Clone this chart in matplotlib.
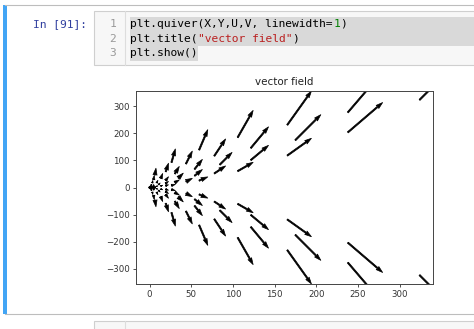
import matplotlib
matplotlib.use('Agg')
import matplotlib.pyplot as plt
from matplotlib.patches import Rectangle
from matplotlib.lines import Line2D

# ---------------- data (upper half; lower half is its mirror) ----------------
x_upper = [6.6, 26.4, 59.5, 105.8, 165.3, 238.0, 324.0,
           4.9, 19.4, 43.7, 77.7, 121.5, 174.9, 238.0,
           3.4, 13.5, 30.4, 54.0, 84.3, 121.5, 165.3,
           2.2, 8.6, 19.4, 34.5, 54.0, 77.7, 105.8,
           1.2, 4.9, 10.9, 19.4, 30.4, 43.7, 59.5,
           0.5, 2.2, 4.9, 8.6, 13.5, 19.4, 26.4,
           0.1, 0.5, 1.2, 2.2, 3.4, 4.9, 6.6, 0.0]
y_upper = [46.3, 92.6, 138.9, 185.1, 231.4, 277.7, 324.0,
           29.1, 58.3, 87.4, 116.6, 145.7, 174.9, 204.0,
           16.9, 33.7, 50.6, 67.5, 84.3, 101.2, 118.1,
           8.6, 17.3, 25.9, 34.5, 43.2, 51.8, 60.5,
           3.6, 7.3, 10.9, 14.6, 18.2, 21.9, 25.5,
           1.1, 2.2, 3.2, 4.3, 5.4, 6.5, 7.6,
           0.1, 0.3, 0.4, 0.5, 0.7, 0.8, 0.9, 0.0]
u_upper = [6.6, 26.4, 59.5, 105.8, 165.3, 238.0, 324.0,
           4.9, 19.4, 43.7, 77.7, 121.5, 174.9, 238.0,
           3.4, 13.5, 30.4, 54.0, 84.3, 121.5, 165.3,
           2.2, 8.6, 19.4, 34.5, 54.0, 77.7, 105.8,
           1.2, 4.9, 10.9, 19.4, 30.4, 43.7, 59.5,
           0.5, 2.2, 4.9, 8.6, 13.5, 19.4, 26.4,
           0.1, 0.5, 1.2, 2.2, 3.4, 4.9, 6.6, 0.0]
v_upper = [46.3, 92.6, 138.9, 185.1, 231.4, 277.7, 324.0,
           29.1, 58.3, 87.4, 116.6, 145.7, 174.9, 204.0,
           16.9, 33.7, 50.6, 67.5, 84.3, 101.2, 118.1,
           8.6, 17.3, 25.9, 34.5, 43.2, 51.8, 60.5,
           3.6, 7.3, 10.9, 14.6, 18.2, 21.9, 25.5,
           1.1, 2.2, 3.2, 4.3, 5.4, 6.5, 7.6,
           0.1, 0.3, 0.4, 0.5, 0.7, 0.8, 0.9, 0.0]

X = x_upper + x_upper
Y = y_upper + [-y for y in y_upper]
U = u_upper + u_upper
V = v_upper + [-v for v in v_upper]

xticks = [0, 50, 100, 150, 200, 250, 300]
yticks = [-300, -200, -100, 0, 100, 200, 300]

code_lines = [
    [("plt.quiver(X,Y,U,V, linewidth=", "#000000"), ("1", "#008000"), (")", "#000000")],
    [("plt.title(", "#000000"), ('"vector field"', "#BA2121"), (")", "#000000")],
    [("plt.show()", "#000000")],
]
prompt = "In [91]:"

# ---------------- figure / notebook chrome ----------------
W, H = 474, 329
fig = plt.figure(figsize=(W / 100, H / 100), dpi=100)
fig.patch.set_facecolor('white')

def fx(x):
    return x / W

def fy(y):
    return 1 - y / H

def rect(x0, y0, x1, y1, **kw):
    fig.patches.append(Rectangle((fx(x0), fy(y1)), fx(x1) - fx(x0), fy(y0) - fy(y1),
                                 transform=fig.transFigure, **kw))

def line(x0, y0, x1, y1, **kw):
    fig.lines.append(Line2D([fx(x0), fx(x1)], [fy(y0), fy(y1)], transform=fig.transFigure, **kw))

# selected cell border + blue bar
line(5, 4.7, 480, 4.7, color='#bdbdbd', lw=0.8)
line(5, 313.5, 480, 313.5, color='#bdbdbd', lw=0.8)
rect(3, 4.5, 7.2, 314, facecolor='#42A5F5', edgecolor='none')

# code input box
rect(94, 11, 490, 65, facecolor='#f7f7f7', edgecolor='#cfcfcf', lw=0.8)
line(124.5, 11, 124.5, 65, color='#dddddd', lw=0.8)
# selection highlight
rect(129.5, 16.8, 480, 46, facecolor='#d9d9d9', edgecolor='none')
rect(129.5, 46, 198, 60.5, facecolor='#d9d9d9', edgecolor='none')

mono = 'DejaVu Sans Mono'
fs = 8.1
cw = fs * 100 / 72 * 0.60205
line_y = [24, 38.7, 53.3]

fig.text(fx(33), fy(24), prompt, family=mono, fontsize=fs, color='#303F9F', va='center', ha='left')
for i, toks in enumerate(code_lines):
    fig.text(fx(116), fy(line_y[i]), str(i + 1), family=mono, fontsize=fs, color='#999999',
             va='center', ha='right')
    n = 0
    for t, c in toks:
        fig.text(fx(130 + n * cw), fy(line_y[i]), t, family=mono, fontsize=fs, color=c,
                 va='center', ha='left')
        n += len(t)

# next cell (cut off at bottom)
rect(94, 320.5, 490, 340, facecolor='#f7f7f7', edgecolor='#cfcfcf', lw=0.8)
line(124.5, 320.5, 124.5, 340, color='#dddddd', lw=0.8)

# ---------------- quiver plot ----------------
ax = fig.add_axes([fx(136), fy(284), (433 - 136) / W, (284 - 91) / H])
ax.quiver(X, Y, U, V, scale=2030, width=0.0046, color='k', edgecolor='k', linewidth=0.5)
ax.set_xlim(-16.2, 340.2)
ax.set_ylim(-357, 357)
ax.set_xticks(xticks)
ax.set_yticks(yticks)
ax.set_title('vector field', fontsize=7.4, pad=4, color='#222222')
for s in ax.spines.values():
    s.set_color('#444444')
    s.set_linewidth(0.7)
ax.tick_params(labelsize=6.2, length=2.3, width=0.6, pad=2.2, colors='#333333')

fig.savefig('out.png', dpi=100, facecolor='white')
